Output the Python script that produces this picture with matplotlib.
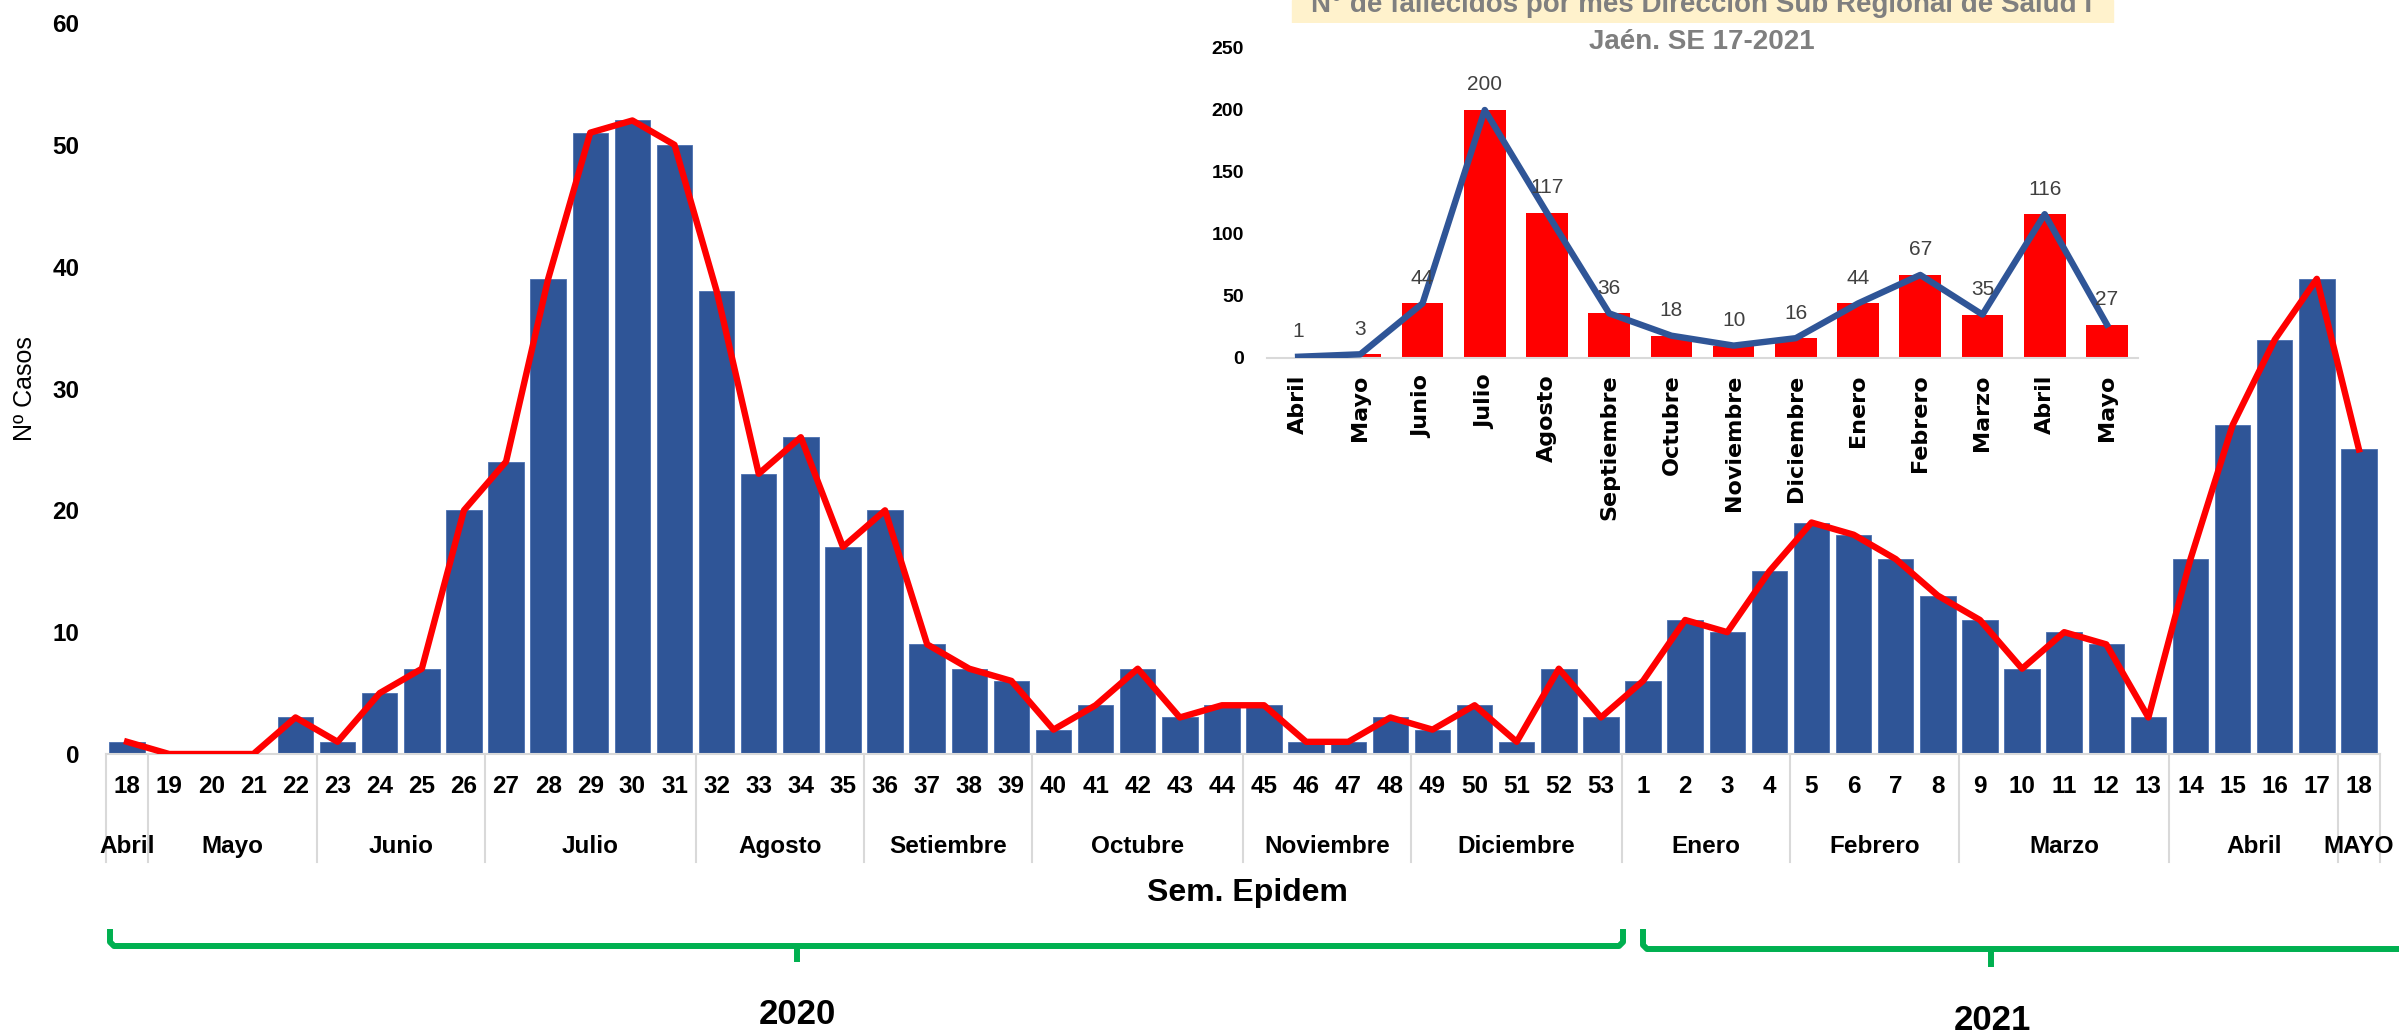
import matplotlib
matplotlib.use('Agg')
import matplotlib.pyplot as plt
from matplotlib.transforms import blended_transform_factory
from matplotlib.patches import Rectangle
import numpy as np

plt.rcParams['font.family'] = ['Liberation Sans', 'DejaVu Sans']

# casos por semana epidemiologica (2020: SE 18-53, 2021: SE 1-18)
semanas = [str(s) for s in range(18, 54)] + [str(s) for s in range(1, 19)]
casos = [1, 0, 0, 0, 3, 1, 5, 7, 20, 24, 39, 51, 52, 50, 38, 23, 26, 17,
         20, 9, 7, 6, 2, 4, 7, 3, 4, 4, 1, 1, 3, 2, 4, 1, 7, 3,
         6, 11, 10, 15, 19, 18, 16, 13, 11, 7, 10, 9, 3, 16, 27, 34, 39, 25]
meses = ['Abril', 'Mayo', 'Junio', 'Julio', 'Agosto', 'Setiembre', 'Octubre',
         'Noviembre', 'Diciembre', 'Enero', 'Febrero', 'Marzo', 'Abril', 'MAYO']
semanas_por_mes = [1, 4, 4, 5, 4, 4, 5, 4, 5, 4, 4, 5, 4, 1]

# fallecidos por mes (grafico pequeño)
meses_fall = ['Abril', 'Mayo', 'Junio', 'Julio', 'Agosto', 'Septiembre', 'Octubre',
              'Noviembre', 'Diciembre', 'Enero', 'Febrero', 'Marzo', 'Abril', 'Mayo']
fallecidos = [1, 3, 44, 200, 117, 36, 18, 10, 16, 44, 67, 35, 116, 27]

W, H = 2399, 1032
fig = plt.figure(figsize=(W / 100, H / 100), dpi=100)


def fx(px):
    return px / W


def fy(py):
    return 1 - py / H


# grafico principal
ax = fig.add_axes([fx(106), fy(754), fx(2380) - fx(106), fy(23) - fy(754)])
x = np.arange(len(semanas))
ax.bar(x, casos, width=0.84, color='#2F5597', edgecolor='#4A6FB0', linewidth=0.6, zorder=2)
ax.plot(x, casos, color='#FF0000', lw=4.6, zorder=3)
ax.set_xlim(-0.5, len(semanas) - 0.5)
ax.set_ylim(0, 60)
ax.set_yticks(range(0, 61, 10))
ax.set_xticks(x)
ax.set_xticklabels(semanas)
ax.tick_params(axis='x', length=0, pad=15, labelsize=17.5)
ax.tick_params(axis='y', length=0, pad=19, labelsize=17.5)
for lab in ax.get_xticklabels() + ax.get_yticklabels():
    lab.set_fontweight('bold')
for s in ['top', 'right', 'left']:
    ax.spines[s].set_visible(False)
ax.spines['bottom'].set_color('#D9D9D9')
ax.spines['bottom'].set_linewidth(1.5)

trans = blended_transform_factory(ax.transData, ax.transAxes)
limites = np.concatenate([[0], np.cumsum(semanas_por_mes)]) - 0.5
for b in limites:
    ax.plot([b, b], [0, -0.1477], transform=trans, color='#D9D9D9', lw=1.5, clip_on=False)
centros = (limites[:-1] + limites[1:]) / 2
for c, m in zip(centros, meses):
    ax.text(c, -0.1361, m, transform=trans, ha='center', va='baseline',
            fontsize=17.5, fontweight='bold')

fig.text(fx(1247), fy(893), 'Sem. Epidem', ha='center', va='center',
         fontsize=23, fontweight='bold')
fig.text(fx(25), fy(389), 'Nº Casos', ha='center', va='center',
         rotation=90, fontsize=18)

# grafico de fallecidos
axi = fig.add_axes([fx(1267), fy(358), fx(2138) - fx(1267), fy(48) - fy(358)])
axi.patch.set_alpha(0)
xi = np.arange(len(meses_fall))
axi.bar(xi, fallecidos, width=0.67, color='#FF0000', zorder=2)
axi.plot(xi, fallecidos, color='#2F5597', lw=4.6, zorder=3)
for xx, v in zip(xi, fallecidos):
    axi.annotate(str(v), (xx, v), xytext=(0, 18), textcoords='offset points',
                 ha='center', va='center', fontsize=15, color='#404040')
axi.set_xlim(-0.5, len(meses_fall) - 0.5)
axi.set_ylim(0, 250)
axi.set_yticks(range(0, 251, 50))
axi.set_xticks(xi)
axi.set_xticklabels(meses_fall, rotation=90, family=['DejaVu Sans'],
                    fontsize=16, fontweight='bold')
axi.tick_params(axis='x', length=0, pad=12)
axi.tick_params(axis='y', length=0, pad=16.5, labelsize=14)
for lab in axi.get_yticklabels():
    lab.set_fontweight('bold')
for s in ['top', 'right', 'left']:
    axi.spines[s].set_visible(False)
axi.spines['bottom'].set_color('#D9D9D9')
axi.spines['bottom'].set_linewidth(1.5)

fig.add_artist(Rectangle((fx(1292), fy(69)), fx(2113) - fx(1292), fy(0) - fy(69),
                         transform=fig.transFigure, color='#FFF2CC', zorder=0))
fig.text(fx(1702), fy(5), 'N° de fallecidos por mes Dirección Sub Regional de Salud I',
         ha='center', va='center', fontsize=20, fontweight='bold', color='#7F7F7F')
fig.text(fx(1702), fy(42), 'Jaén. SE 17-2021',
         ha='center', va='center', fontsize=20, fontweight='bold', color='#7F7F7F')

# llaves de año
ov = fig.add_axes([0, 0, 1, 1])
ov.set_xlim(0, W)
ov.set_ylim(H, 0)
ov.axis('off')
ov.patch.set_alpha(0)
verde = '#00B050'
ov.plot([110, 110, 114, 1619, 1623, 1623], [932, 942, 946, 946, 942, 932],
        color=verde, lw=4.3, solid_joinstyle='round')
ov.plot([797, 797], [946, 962], color=verde, lw=4.3, solid_capstyle='butt')
ov.plot([1643, 1643, 1647, 2410], [932, 945, 949, 949],
        color=verde, lw=4.3, solid_joinstyle='round')
ov.plot([1991, 1991], [949, 967], color=verde, lw=4.3, solid_capstyle='butt')
ov.text(797, 1015, '2020', ha='center', va='center', fontsize=25, fontweight='bold')
ov.text(1992, 1020, '2021', ha='center', va='center', fontsize=25, fontweight='bold')

fig.savefig('out.png', dpi=100)
